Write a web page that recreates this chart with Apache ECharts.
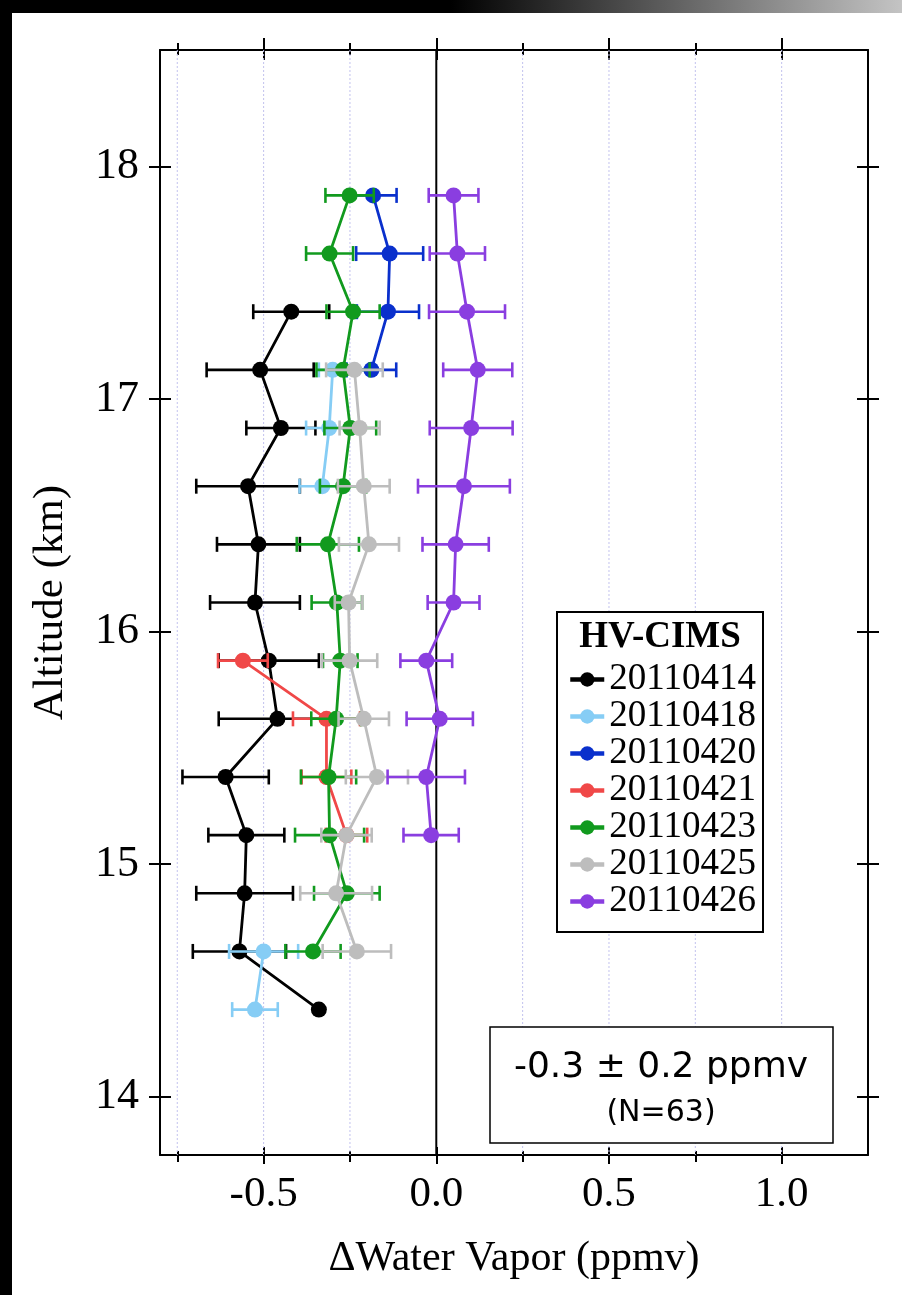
<!DOCTYPE html>
<html><head><meta charset="utf-8">
<script src="https://cdn.jsdelivr.net/npm/echarts@6/dist/echarts.min.js"></script>
<style>html,body{margin:0;padding:0;background:#fff}#c{width:902px;height:1295px}</style>
</head><body><div id="c"></div>
<script>
// ---- data ----
const altitudes = [17.875,17.625,17.375,17.125,16.875,16.625,16.375,16.125,15.875,15.625,15.375,15.125,14.875,14.625,14.375];
const seriesNames = ['20110414','20110418','20110420','20110421','20110423','20110425','20110426'];
const seriesColors = ['#000000','#86CDF5','#0A30CC','#F04848','#119A1E','#BDBDBD','#8A3EE0'];

const val20110414 = [null,null,-0.42,-0.51,-0.45,-0.545,-0.515,-0.525,-0.485,-0.46,-0.61,-0.55,-0.555,-0.57,-0.34];
const err20110414 = [null,null,0.11,0.155,0.10,0.15,0.12,0.13,0.145,0.17,0.125,0.11,0.14,0.135,null];
const val20110418 = [null,null,null,-0.30,-0.31,-0.33,null,null,null,null,null,null,null,-0.50,-0.525];
const err20110418 = [null,null,null,0.04,0.067,0.066,null,null,null,null,null,null,null,0.10,0.066];
const val20110420 = [-0.183,-0.135,-0.14,-0.188,null,null,null,null,null,null,null,null,null,null,null];
const err20110420 = [0.068,0.097,0.09,0.072,null,null,null,null,null,null,null,null,null,null,null];
const val20110421 = [null,null,null,null,null,null,null,null,-0.56,-0.318,-0.318,-0.26,null,null,null];
const err20110421 = [null,null,null,null,null,null,null,null,0.072,0.097,0.072,0.06,null,null,null];
const val20110423 = [-0.251,-0.309,-0.241,-0.27,-0.249,-0.27,-0.314,-0.288,-0.278,-0.29,-0.312,-0.309,-0.259,-0.357,null];
const err20110423 = [0.07,0.068,0.077,0.077,0.075,0.067,0.09,0.073,0.05,0.072,0.08,0.10,0.095,0.08,null];
const val20110425 = [null,null,null,-0.237,-0.222,-0.21,-0.195,-0.254,-0.251,-0.21,-0.172,-0.26,-0.29,-0.23,null];
const err20110425 = [null,null,null,0.082,0.058,0.075,0.087,0.04,0.08,0.073,0.09,0.073,0.104,0.099,null];
const val20110426 = [0.05,0.061,0.089,0.12,0.101,0.08,0.056,0.05,-0.029,0.01,-0.029,-0.015,null,null,null];
const err20110426 = [0.072,0.08,0.11,0.10,0.12,0.133,0.096,0.075,0.075,0.096,0.112,0.08,null,null,null];

const allValues = [val20110414,val20110418,val20110420,val20110421,val20110423,val20110425,val20110426];
const allErrors = [err20110414,err20110418,err20110420,err20110421,err20110423,err20110425,err20110426];

const xMajorTicks = [-0.5, 0, 0.5, 1.0];
const xMinorTicks = [-0.75, -0.25, 0.25, 0.75];
const xGridLines = [-0.75, -0.5, -0.25, 0.25, 0.5, 0.75, 1.0];
const xZeroLine = [0];
const yTicks = [14, 15, 16, 17, 18];
const xRange = [-0.8, 1.25];
const yRange = [13.75, 18.5];

// ---- chart ----
const SERIF = "'Liberation Serif','DejaVu Serif',serif";
const chart = echarts.init(document.getElementById('c'), null, {renderer: 'canvas'});

function xAxisDef(pos, ticks, len, inside, line, labels) {
  return {
    type: 'value', position: pos, min: xRange[0], max: xRange[1],
    axisLine: {show: line, onZero: false, lineStyle: {color: '#000', width: 2}},
    axisTick: {show: true, customValues: ticks, inside: inside, length: len, lineStyle: {color: '#000', width: 2}},
    axisLabel: labels ? {show: true, customValues: xMajorTicks, formatter: v => Number(v).toFixed(1),
      fontFamily: SERIF, fontSize: 43, color: '#000', margin: 18} : {show: false},
    splitLine: {show: false}
  };
}
function yAxisDef(pos, len, inside, line, labels) {
  return {
    type: 'value', position: pos, min: yRange[0], max: yRange[1],
    axisLine: {show: line, onZero: false, lineStyle: {color: '#000', width: 2}},
    axisTick: {show: true, customValues: yTicks, inside: inside, length: len, lineStyle: {color: '#000', width: 2}},
    axisLabel: labels ? {show: true, customValues: yTicks, formatter: v => String(v),
      fontFamily: SERIF, fontSize: 44, color: '#000', margin: 21} : {show: false},
    splitLine: {show: false}
  };
}

const xAxes = [
  Object.assign(xAxisDef('bottom', xMajorTicks, 9, false, true, true), {
    name: '\u0394Water Vapor (ppmv)', nameLocation: 'middle', nameGap: 83,
    nameTextStyle: {fontFamily: SERIF, fontSize: 42, color: '#000'}
  }),
  xAxisDef('bottom', xMajorTicks, 8, true, false, false),
  xAxisDef('bottom', xMinorTicks, 7, false, false, false),
  xAxisDef('bottom', xMinorTicks, 4, true, false, false),
  xAxisDef('top', xMajorTicks, 12, false, true, false),
  xAxisDef('top', xMajorTicks, 10, true, false, false),
  xAxisDef('top', xMinorTicks, 7, false, false, false),
  xAxisDef('top', xMinorTicks, 5, true, false, false)
];
const yAxes = [
  Object.assign(yAxisDef('left', 11, false, true, true), {
    name: 'Altitude (km)', nameLocation: 'middle', nameGap: 88,
    nameTextStyle: {fontFamily: SERIF, fontSize: 43, color: '#000'}
  }),
  yAxisDef('left', 11, true, false, false),
  yAxisDef('right', 11, false, true, false),
  yAxisDef('right', 11, true, false, false)
];

const series = [];
series.push({
  type: 'custom', name: 'grid', xAxisIndex: 0, yAxisIndex: 0, z: 1, silent: true,
  data: xGridLines.map(v => [v, yRange[0]]), encode: {x: 0, y: 1},
  renderItem: (params, api) => {
    const cs = params.coordSys; const p = api.coord([api.value(0), api.value(1)]);
    return {type: 'line', shape: {x1: p[0], y1: cs.y, x2: p[0], y2: cs.y + cs.height},
      style: {stroke: '#C2C2EE', lineWidth: 1, lineDash: [2, 2]}};
  }
});
series.push({
  type: 'custom', name: 'zero', xAxisIndex: 0, yAxisIndex: 0, z: 2, silent: true,
  data: xZeroLine.map(v => [v, yRange[0]]), encode: {x: 0, y: 1},
  renderItem: (params, api) => {
    const cs = params.coordSys; const p = api.coord([api.value(0), api.value(1)]);
    return {type: 'line', shape: {x1: p[0], y1: cs.y, x2: p[0], y2: cs.y + cs.height},
      style: {stroke: '#000', lineWidth: 2}};
  }
});
seriesNames.forEach((name, k) => {
  const vals = allValues[k];
  series.push({
    type: 'line', name: name, xAxisIndex: 0, yAxisIndex: 0, z: 11 + 2 * k,
    data: altitudes.map((a, i) => vals[i] == null ? ['-', a] : [vals[i], a]),
    symbol: 'circle', symbolSize: 16, showSymbol: true,
    lineStyle: {color: seriesColors[k], width: 2.8},
    itemStyle: {color: seriesColors[k]},
    animation: false
  });
});
seriesNames.forEach((name, k) => {
  const vals = allValues[k], errs = allErrors[k];
  const d = [];
  altitudes.forEach((a, i) => { if (vals[i] != null && errs[i] != null) d.push([vals[i], a, errs[i]]); });
  series.push({
    type: 'custom', name: name, xAxisIndex: 0, yAxisIndex: 0, z: 10 + 2 * k, silent: true,
    data: d, encode: {x: 0, y: 1},
    renderItem: (params, api) => {
      const x = api.value(0), y = api.value(1), e = api.value(2);
      const p1 = api.coord([x - e, y]), p2 = api.coord([x + e, y]);
      const h = 7.5;
      const st = {stroke: seriesColors[k], lineWidth: 2.6, fill: null};
      return {type: 'group', children: [
        {type: 'line', shape: {x1: p1[0], y1: p1[1], x2: p2[0], y2: p2[1]}, style: st},
        {type: 'line', shape: {x1: p1[0], y1: p1[1] - h, x2: p1[0], y2: p1[1] + h}, style: st},
        {type: 'line', shape: {x1: p2[0], y1: p2[1] - h, x2: p2[0], y2: p2[1] + h}, style: st}
      ]};
    },
    animation: false
  });
});

const option = {
  backgroundColor: '#fff',
  animation: false,
  grid: {left: 160, right: 34, top: 50, bottom: 140, containLabel: false},
  xAxis: xAxes,
  yAxis: yAxes,
  legend: {
    data: seriesNames, orient: 'vertical', left: 568, top: 661, z: 30,
    itemWidth: 34, itemHeight: 18, itemGap: 0, padding: 0,
    lineStyle: {width: 4.5},
    textStyle: {fontFamily: SERIF, fontSize: 37, color: '#000', lineHeight: 34}
  },
  graphic: [
    {type: 'rect', z: 100, shape: {x: 0, y: 0, width: 902, height: 13},
      style: {fill: new echarts.graphic.LinearGradient(0, 0, 1, 0, [
        {offset: 0, color: '#000'}, {offset: 0.5, color: '#000'}, {offset: 1, color: '#C4C4C4'}])}},
    {type: 'rect', z: 100, shape: {x: 0, y: 0, width: 12, height: 1295}, style: {fill: '#000'}},
    {type: 'rect', z: 20, shape: {x: 557, y: 612, width: 206, height: 320},
      style: {fill: '#fff', stroke: '#000', lineWidth: 2}},
    {type: 'text', z: 31, x: 660, y: 637,
      style: {text: 'HV-CIMS', font: "bold 37px 'Liberation Serif'", fill: '#000', align: 'center', verticalAlign: 'middle'}},
    {type: 'rect', z: 20, shape: {x: 490, y: 1027, width: 343, height: 116},
      style: {fill: '#fff', stroke: '#000', lineWidth: 1.5}},
    {type: 'text', z: 31, x: 661, y: 1068,
      style: {text: '-0.3 \u00B1 0.2 ppmv', font: "36px 'DejaVu Sans'", fill: '#000', align: 'center', verticalAlign: 'middle'}},
    {type: 'text', z: 31, x: 661, y: 1113,
      style: {text: '(N=63)', font: "30px 'DejaVu Sans'", fill: '#000', align: 'center', verticalAlign: 'middle'}}
  ],
  series: series
};
chart.setOption(option);
</script>
</body></html>
